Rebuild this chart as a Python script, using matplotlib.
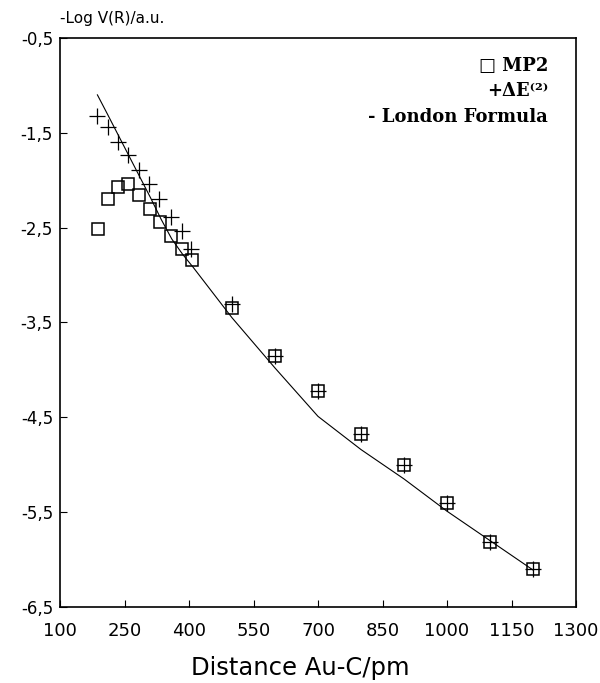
import matplotlib
matplotlib.use("Agg")
import matplotlib.pyplot as plt

# Data
mp2_x = [188, 211, 234, 259, 284, 309, 332, 357, 383, 407, 500, 600, 700, 800, 900, 1000, 1100, 1200]
mp2_y = [-2.51, -2.20, -2.07, -2.04, -2.16, -2.30, -2.44, -2.59, -2.72, -2.84,
         -3.35, -3.85, -4.22, -4.68, -5.00, -5.40, -5.81, -6.10]

de2_x = [185, 212, 235, 259, 284, 307, 331, 359, 383, 404, 500, 600, 700, 800, 900, 1000, 1100, 1200]
de2_y = [-1.32, -1.44, -1.60, -1.73, -1.89, -2.04, -2.20, -2.39, -2.54, -2.72,
         -3.30, -3.85, -4.22, -4.68, -5.00, -5.40, -5.81, -6.10]

london_x = [187, 210, 235, 260, 285, 310, 335, 360, 385, 410, 500, 600, 700, 800, 900, 1000, 1100, 1200]
london_y = [-1.10, -1.30, -1.52, -1.74, -1.96, -2.18, -2.41, -2.62, -2.78, -2.92,
            -3.45, -3.98, -4.49, -4.84, -5.15, -5.49, -5.80, -6.11]

x_ticks = [100, 250, 400, 550, 700, 850, 1000, 1150, 1300]
y_ticks = [-6.5, -5.5, -4.5, -3.5, -2.5, -1.5, -0.5]
y_tick_labels = ["-6,5", "-5,5", "-4,5", "-3,5", "-2,5", "-1,5", "-0,5"]

fig = plt.figure(figsize=(6.0, 6.83), dpi=100)
ax = fig.add_axes([0.10, 0.1113, 0.86, 0.8331])

ax.plot(london_x, london_y, color="black", linewidth=0.8)
ax.plot(mp2_x, mp2_y, linestyle="none", marker="s", markersize=8,
        markerfacecolor="none", markeredgecolor="black", markeredgewidth=1.1)
ax.plot(de2_x, de2_y, linestyle="none", marker="+", markersize=11,
        color="black", markeredgewidth=0.9)

ax.set_xlim(100, 1300)
ax.set_ylim(-6.5, -0.5)
ax.set_xticks(x_ticks)
ax.set_xticklabels([str(v) for v in x_ticks])
ax.set_yticks(y_ticks)
ax.set_yticklabels(y_tick_labels)
ax.tick_params(axis="both", direction="in", length=5, width=0.8, colors="black")
ax.tick_params(axis="x", labelsize=13, pad=11)
ax.tick_params(axis="y", labelsize=12, pad=5)
for s in ax.spines.values():
    s.set_linewidth(1.2)
    s.set_color("black")

ax.set_xlabel("Distance Au-C/pm", fontsize=17.5, va="center")
ax.xaxis.set_label_coords(0.465, -0.107)
fig.text(60 / 600, 1 - 18 / 683, "-Log V(R)/a.u.", fontsize=11, ha="left", va="center")

serif = ["DejaVu Serif", "DejaVu Sans"]
ax.text(0.946, 0.951, "\u25a1 MP2", transform=ax.transAxes, ha="right", va="center",
        fontsize=13, fontweight="bold", family=serif)
ax.text(0.946, 0.907, "+\u0394E\u207d\u00b2\u207e", transform=ax.transAxes, ha="right", va="center",
        fontsize=13, fontweight="bold", family=serif)
ax.text(0.946, 0.861, "- London Formula", transform=ax.transAxes, ha="right", va="center",
        fontsize=13, fontweight="bold", family=serif)

fig.savefig("out.png", dpi=100)
